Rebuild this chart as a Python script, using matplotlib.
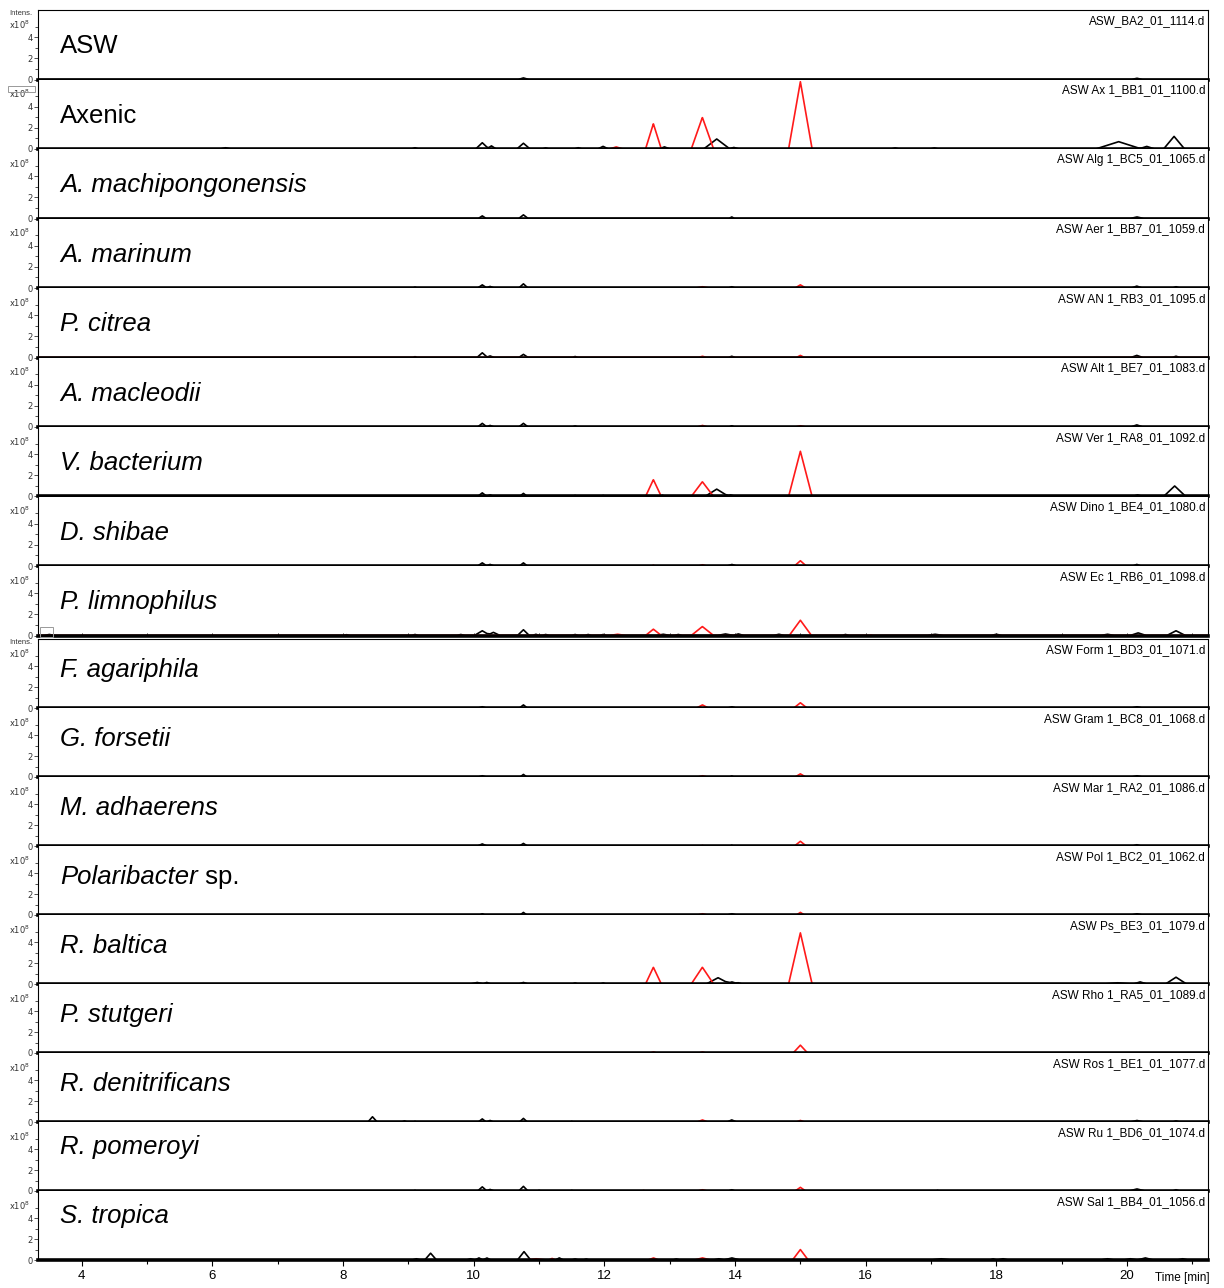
import matplotlib
matplotlib.use("Agg")
import numpy as np
import matplotlib.pyplot as plt
from matplotlib.patches import Rectangle

# ---- data ----
labels = ["ASW", "Axenic", "A. machipongonensis", "A. marinum", "P. citrea",
          "A. macleodii", "V. bacterium", "D. shibae", "P. limnophilus",
          "F. agariphila", "G. forsetii", "M. adhaerens", "Polaribacter sp.",
          "R. baltica", "P. stutgeri", "R. denitrificans", "R. pomeroyi",
          "S. tropica"]
files = ["ASW_BA2_01_1114.d", "ASW Ax 1_BB1_01_1100.d", "ASW Alg 1_BC5_01_1065.d",
         "ASW Aer 1_BB7_01_1059.d", "ASW AN 1_RB3_01_1095.d", "ASW Alt 1_BE7_01_1083.d",
         "ASW Ver 1_RA8_01_1092.d", "ASW Dino 1_BE4_01_1080.d", "ASW Ec 1_RB6_01_1098.d",
         "ASW Form 1_BD3_01_1071.d", "ASW Gram 1_BC8_01_1068.d", "ASW Mar 1_RA2_01_1086.d",
         "ASW Pol 1_BC2_01_1062.d", "ASW Ps_BE3_01_1079.d", "ASW Rho 1_RA5_01_1089.d",
         "ASW Ros 1_BE1_01_1077.d", "ASW Ru 1_BD6_01_1074.d", "ASW Sal 1_BB4_01_1056.d"]

# peaks as (retention time [min], intensity [x10^8], half width [min])
black_peaks = [
    [(10.76, 0.15, 0.08), (20.15, 0.12, 0.08)],
    [(6.2, 0.12, 0.08), (9.1, 0.12, 0.05), (10.13, 0.6, 0.1), (10.27, 0.3, 0.07),
     (10.76, 0.55, 0.1), (11.1, 0.1, 0.05), (11.6, 0.12, 0.06), (11.98, 0.25, 0.08),
     (12.92, 0.2, 0.08), (13.72, 0.95, 0.2), (13.98, 0.15, 0.08), (16.45, 0.1, 0.06),
     (17.05, 0.1, 0.06), (19.87, 0.7, 0.35), (20.3, 0.25, 0.12), (20.72, 1.2, 0.16)],
    [(10.13, 0.25, 0.06), (10.76, 0.35, 0.07), (13.95, 0.15, 0.04), (20.15, 0.15, 0.1)],
    [(9.1, 0.08, 0.03), (10.13, 0.3, 0.07), (10.25, 0.15, 0.06), (10.76, 0.4, 0.07),
     (13.95, 0.12, 0.05), (20.15, 0.18, 0.08), (20.75, 0.12, 0.05)],
    [(9.1, 0.08, 0.03), (10.13, 0.45, 0.08), (10.25, 0.15, 0.06), (10.76, 0.3, 0.07),
     (11.55, 0.1, 0.04), (13.95, 0.12, 0.05), (20.15, 0.2, 0.09), (20.75, 0.12, 0.06)],
    [(10.13, 0.35, 0.07), (10.25, 0.15, 0.06), (10.76, 0.35, 0.07), (11.55, 0.1, 0.04),
     (13.95, 0.12, 0.04), (20.15, 0.2, 0.09)],
    [(10.13, 0.35, 0.07), (10.25, 0.15, 0.06), (10.76, 0.3, 0.06), (11.55, 0.1, 0.05),
     (11.98, 0.1, 0.05), (12.89, 0.12, 0.04), (13.72, 0.7, 0.18), (13.93, 0.15, 0.08),
     (20.16, 0.15, 0.08), (20.73, 1.0, 0.17)],
    [(10.13, 0.3, 0.07), (10.25, 0.15, 0.06), (10.76, 0.3, 0.06), (13.95, 0.15, 0.07),
     (20.15, 0.15, 0.06)],
    [(3.5, 0.1, 0.08), (8.05, 0.08, 0.05), (9.1, 0.1, 0.05), (9.8, 0.1, 0.06),
     (10.13, 0.45, 0.12), (10.3, 0.3, 0.1), (10.76, 0.55, 0.09), (10.95, 0.12, 0.05),
     (11.1, 0.1, 0.05), (11.55, 0.1, 0.05), (11.75, 0.1, 0.05), (11.98, 0.1, 0.05),
     (12.9, 0.12, 0.1), (13.13, 0.1, 0.06), (13.85, 0.15, 0.12), (14.05, 0.15, 0.08),
     (14.67, 0.12, 0.08), (15.69, 0.1, 0.05), (17.06, 0.12, 0.12), (18.0, 0.12, 0.08),
     (19.7, 0.12, 0.1), (20.17, 0.25, 0.12), (20.75, 0.45, 0.14)],
    [(10.13, 0.12, 0.06), (10.76, 0.3, 0.06), (13.95, 0.12, 0.06), (20.15, 0.12, 0.08)],
    [(10.13, 0.12, 0.06), (10.76, 0.25, 0.05), (13.95, 0.1, 0.03), (20.15, 0.12, 0.08)],
    [(10.13, 0.2, 0.07), (10.76, 0.25, 0.06), (13.95, 0.08, 0.02), (20.15, 0.12, 0.06)],
    [(10.13, 0.12, 0.04), (10.76, 0.25, 0.05), (13.95, 0.12, 0.07), (20.15, 0.12, 0.08)],
    [(10.05, 0.15, 0.1), (10.2, 0.15, 0.06), (10.76, 0.15, 0.07), (11.55, 0.1, 0.04),
     (11.98, 0.1, 0.04), (13.74, 0.6, 0.18), (13.95, 0.2, 0.1), (14.05, 0.12, 0.05),
     (19.85, 0.12, 0.2), (20.2, 0.2, 0.1), (20.75, 0.65, 0.16)],
    [],
    [(8.45, 0.5, 0.07), (8.94, 0.1, 0.04), (9.1, 0.06, 0.02), (10.13, 0.3, 0.06),
     (10.25, 0.15, 0.05), (10.76, 0.35, 0.06), (11.5, 0.06, 0.02), (13.95, 0.2, 0.07),
     (20.15, 0.15, 0.1), (20.75, 0.1, 0.05)],
    [(9.1, 0.06, 0.02), (10.13, 0.4, 0.07), (10.25, 0.15, 0.06), (10.76, 0.45, 0.07),
     (11.0, 0.06, 0.02), (11.5, 0.06, 0.02), (13.95, 0.12, 0.05), (17.1, 0.06, 0.02),
     (20.15, 0.2, 0.12), (20.75, 0.12, 0.05)],
    [(9.12, 0.12, 0.06), (9.34, 0.65, 0.09), (9.95, 0.12, 0.06), (10.08, 0.2, 0.06),
     (10.2, 0.2, 0.06), (10.77, 0.8, 0.1), (11.31, 0.2, 0.06), (11.55, 0.1, 0.05),
     (11.72, 0.1, 0.04), (13.1, 0.1, 0.05), (13.75, 0.12, 0.08), (13.95, 0.2, 0.12),
     (17.15, 0.12, 0.15), (17.95, 0.1, 0.05), (18.1, 0.12, 0.08), (19.7, 0.12, 0.1),
     (20.05, 0.12, 0.1), (20.28, 0.2, 0.12), (20.85, 0.12, 0.08)],
]
red_peaks = [
    [],
    [(12.18, 0.2, 0.1), (12.75, 2.4, 0.12), (13.5, 3.0, 0.17), (15.0, 6.4, 0.18)],
    [],
    [(13.5, 0.12, 0.1), (15.0, 0.3, 0.08)],
    [(13.5, 0.12, 0.06), (15.0, 0.2, 0.06)],
    [(13.5, 0.15, 0.08), (15.0, 0.12, 0.08)],
    [(12.75, 1.6, 0.12), (13.5, 1.4, 0.17), (15.0, 4.3, 0.18)],
    [(12.75, 0.08, 0.02), (13.5, 0.12, 0.06), (15.0, 0.5, 0.09)],
    [(12.2, 0.12, 0.12), (12.75, 0.6, 0.12), (13.5, 0.85, 0.17), (15.0, 1.45, 0.17),
     (16.08, 0.06, 0.02), (20.85, 0.06, 0.02)],
    [(13.5, 0.3, 0.09), (15.0, 0.5, 0.1)],
    [(13.5, 0.12, 0.07), (15.0, 0.3, 0.08)],
    [(13.5, 0.06, 0.02), (15.0, 0.45, 0.09)],
    [(13.5, 0.12, 0.07), (15.0, 0.25, 0.06)],
    [(12.75, 1.6, 0.12), (13.5, 1.6, 0.17), (15.0, 4.9, 0.18)],
    [(12.75, 0.1, 0.05), (13.5, 0.1, 0.05), (15.0, 0.75, 0.11)],
    [(13.5, 0.2, 0.08), (15.0, 0.15, 0.06)],
    [(12.6, 0.05, 0.02), (13.5, 0.12, 0.07), (15.0, 0.35, 0.08)],
    [(10.95, 0.12, 0.15), (11.2, 0.15, 0.05), (12.75, 0.2, 0.08), (13.5, 0.2, 0.12),
     (15.0, 1.0, 0.12)],
]
x_ticks = [4, 6, 8, 10, 12, 14, 16, 18, 20]

W, H = 1224, 1288
XMIN, XMAX = 3.33, 21.24
YMAX = 6.6
grid = np.linspace(XMIN, XMAX, 6000)
SANS = "Liberation Sans"
NARROW = ["Liberation Sans Narrow", "Liberation Sans"]


def trace(peaks):
    y = np.zeros_like(grid)
    for c, h, w in peaks:
        y += np.interp(grid, [c - w, c, c + w], [0, h, 0], left=0, right=0)
    return y


def species_text(ax, lab, y):
    kw = dict(transform=ax.transAxes, fontsize=18.5, va="center", ha="left", family=SANS)
    if lab in ("ASW", "Axenic"):
        ax.text(0.019, y, lab, **kw)
    elif lab.endswith(" sp."):
        t = ax.text(0.019, y, lab[:-4], style="italic", **kw)
        ax.annotate(" sp.", xycoords=t, xy=(1, 0), va="bottom", ha="left",
                    fontsize=18.5, family=SANS)
    else:
        ax.text(0.019, y, lab, style="italic", **kw)


fig = plt.figure(figsize=(W / 100, H / 100), dpi=100)

left, right = 38 / W, 1208 / W
n = len(labels)
for i in range(n):
    if i < 9:
        top_px, h_px = 10 + 69.5 * i, 69.5
    else:
        top_px, h_px = 639 + 69.0 * (i - 9), 69.0
    ax = fig.add_axes([left, 1 - (top_px + h_px) / H, right - left, h_px / H])
    ax.set_xlim(XMIN, XMAX)
    ax.set_ylim(0, YMAX)
    ax.plot(grid, trace(black_peaks[i]), color="black", lw=1.2, zorder=2)
    if red_peaks[i]:
        ax.plot(grid, trace(red_peaks[i]), color="#ff1a1a", lw=1.2, zorder=3)

    for s in ("left", "right", "top"):
        ax.spines[s].set_linewidth(0.8)
    ax.spines["bottom"].set_linewidth(2.6)
    ax.spines["bottom"].set_zorder(4)
    ax.spines["top"].set_visible(i in (0, 9))

    ax.set_yticks([0, 2, 4])
    ax.set_yticks([1, 3, 5], minor=True)
    ax.tick_params(axis="y", which="major", labelsize=6, length=3, width=0.6,
                   pad=1, colors="#333333")
    ax.tick_params(axis="y", which="minor", length=2, width=0.6, colors="#333333")
    ax.text(-0.007, 5.2, "x10$^8$", transform=ax.get_yaxis_transform(),
            fontsize=6, ha="right", va="center", color="#333333")
    if i in (0, 9):
        ax.text(-0.005, 1.0, "Intens.", transform=ax.transAxes, fontsize=5.5,
                ha="right", va="top", color="#333333", family=NARROW)

    ax.set_xticks(x_ticks)
    ax.set_xticks(range(5, 22, 2), minor=True)
    if i == n - 1:
        ax.tick_params(axis="x", which="major", labelsize=9.5, length=4, width=0.8,
                       pad=3)
        ax.tick_params(axis="x", which="minor", length=3, width=0.8)
        for t in ax.get_xticklabels():
            t.set_family(NARROW)
    elif i == 8:
        ax.tick_params(axis="x", which="both", length=2, width=0.6, direction="in",
                       labelbottom=False)
    else:
        ax.tick_params(axis="x", which="both", length=0, labelbottom=False)

    if i < 9:
        label_y = 0.48
    elif i < 16:
        label_y = 0.55
    else:
        label_y = 0.64
    species_text(ax, labels[i], label_y)
    ax.text(0.9975, 0.93, files[i], transform=ax.transAxes, ha="right", va="top",
            fontsize=8.5, family=NARROW)

fig.text(1182 / W, 1 - 1278 / H, "Time [min]", ha="center", va="center",
         fontsize=8.5, family=NARROW)
fig.patches.append(Rectangle((8 / W, 1 - 92 / H), 27 / W, 6 / H, fill=False,
                             edgecolor="#999999", lw=0.7, transform=fig.transFigure))
fig.patches.append(Rectangle((40 / W, 1 - 637 / H), 13 / W, 10 / H, fill=False,
                             edgecolor="#999999", lw=0.7, transform=fig.transFigure))

fig.savefig("out.png", dpi=100)
